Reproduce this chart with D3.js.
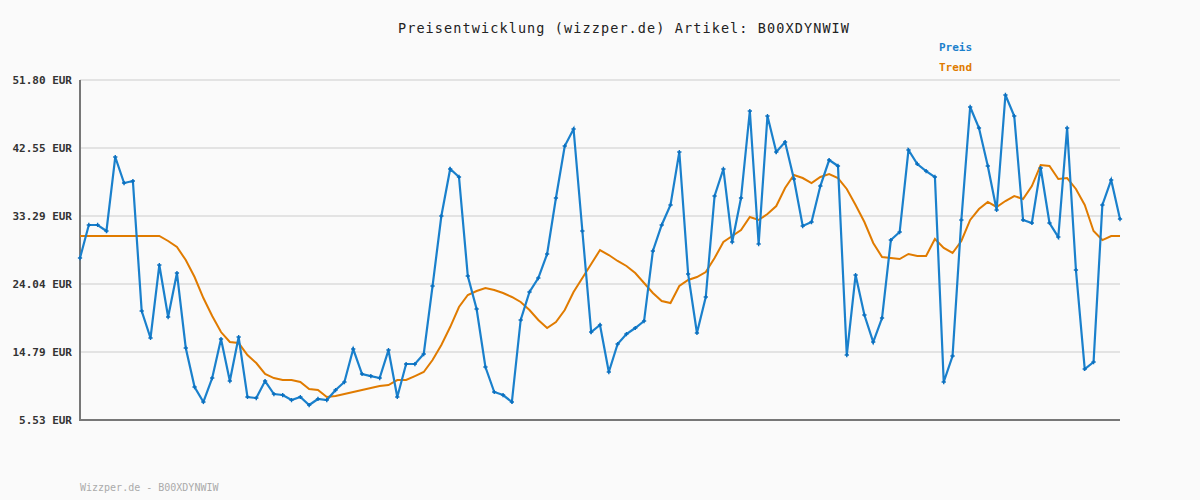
<!DOCTYPE html><html><head><meta charset="utf-8"><script src="https://cdn.jsdelivr.net/npm/d3@7"></script>
<style>body{margin:0;background:#fafafa}text{font-family:"DejaVu Sans Mono",monospace}</style></head><body><svg id="c" width="1200" height="500"></svg><script>
const title="Preisentwicklung (wizzper.de) Artikel: B00XDYNWIW";
const footer="Wizzper.de - B00XDYNWIW";
const tickValues=[5.53,14.79,24.04,33.29,42.55,51.80];
const tickLabels=["5.53 EUR","14.79 EUR","24.04 EUR","33.29 EUR","42.55 EUR","51.80 EUR"];
const price=[27.57,32.07,32.07,31.25,41.32,37.78,38.05,20.36,16.69,26.62,19.54,25.53,15.33,10.02,7.98,11.24,16.55,10.83,16.82,8.66,8.52,10.83,9.06,8.93,8.25,8.66,7.57,8.39,8.25,9.61,10.70,15.19,11.79,11.51,11.24,15.05,8.66,13.15,13.15,14.51,
23.76,33.29,39.69,38.60,25.12,20.63,12.74,9.34,8.93,7.98,19.14,22.95,24.85,28.12,35.74,42.82,45.13,31.25,17.50,18.46,12.06,15.87,17.23,18.05,19.00,28.53,32.07,34.79,42.00,25.40,17.37,22.27,36.01,39.69,29.75,35.74,47.58,29.48,46.90,42.00,43.36,38.33,31.93,32.47,37.37,40.91,40.10,14.37,25.26,19.82,16.14,19.41,30.02,31.11,42.27,40.37,39.41,38.60,10.70,14.24,32.75,48.13,45.27,40.10,34.11,49.76,46.90,32.75,32.34,39.82,32.34,30.43,45.27,25.94,12.47,13.42,34.79,38.19,32.88];
const trend=[30.57,30.57,30.57,30.57,30.57,30.57,30.57,30.57,30.57,30.57,
29.89,29.07,27.30,24.99,22.13,19.68,17.50,16.14,16.00,14.37,13.28,11.79,11.24,10.97,10.97,10.70,9.75,9.61,8.66,8.80,9.06,9.34,9.61,9.88,10.15,10.29,10.97,10.97,11.51,12.06,
13.69,15.73,18.18,20.91,22.54,23.08,23.49,23.22,22.81,22.27,21.59,20.50,19.14,18.05,18.87,20.50,22.95,24.85,26.76,28.66,27.98,27.17,26.49,25.53,24.17,22.81,21.72,21.45,23.76,24.58,24.99,25.67,27.57,29.75,30.57,31.38,33.15,32.75,33.56,34.65,37.10,38.87,38.46,37.78,38.60,39.01,38.46,36.97,34.79,32.47,29.62,27.71,27.57,27.44,28.12,27.85,27.85,30.16,28.94,28.26,29.89,32.75,34.24,35.20,34.52,35.33,36.01,35.60,37.37,40.23,40.10,38.33,38.46,36.97,34.79,31.25,30.02,30.57,30.57];
const svg=d3.select("#c");
const x=d3.scaleLinear().domain([0,price.length-1]).range([80,1120]);
const y=d3.scaleLinear().domain([5.53,51.80]).range([420,80]);
svg.append("rect").attr("width",1200).attr("height",500).attr("fill","#fafafa");
svg.append("g").selectAll("line").data(tickValues).join("line").attr("x1",80).attr("x2",1120).attr("y1",d=>y(d)).attr("y2",d=>y(d)).attr("stroke","#e3e3e3").attr("stroke-width",2);
svg.append("g").selectAll("text").data(tickValues).join("text").attr("x",72).attr("y",d=>y(d)+4).attr("text-anchor","end").attr("font-size",11).attr("font-weight","bold").attr("fill","#333").text((d,i)=>tickLabels[i]);
svg.append("line").attr("x1",80).attr("x2",80).attr("y1",80).attr("y2",420).attr("stroke","#777").attr("stroke-width",2);
svg.append("line").attr("x1",79).attr("x2",1120).attr("y1",420).attr("y2",420).attr("stroke","#777").attr("stroke-width",2);
const line=d3.line().x((d,i)=>x(i)).y(d=>y(d));
svg.append("path").attr("d",line(trend)).attr("fill","none").attr("stroke","#e07b00").attr("stroke-width",2);
svg.append("path").attr("d",line(price)).attr("fill","none").attr("stroke","#1a80cc").attr("stroke-width",2.2);
svg.append("g").selectAll("path").data(price).join("path").attr("transform",(d,i)=>`translate(${x(i)},${y(d)})`).attr("d",d3.symbol(d3.symbolCross,10)).attr("fill","#0a6fbf");
svg.append("text").attr("x",624).attr("y",33).attr("text-anchor","middle").attr("font-size",13.5).attr("letter-spacing",1.1).attr("fill","#222").text(title);
svg.append("text").attr("x",939).attr("y",51).attr("font-size",11).attr("font-weight","bold").attr("fill","#1a80cc").text("Preis");
svg.append("text").attr("x",939).attr("y",71).attr("font-size",11).attr("font-weight","bold").attr("fill","#e07b00").text("Trend");
svg.append("text").attr("x",80).attr("y",491).attr("font-size",10).attr("fill","#aaa").text(footer);
</script></body></html>
